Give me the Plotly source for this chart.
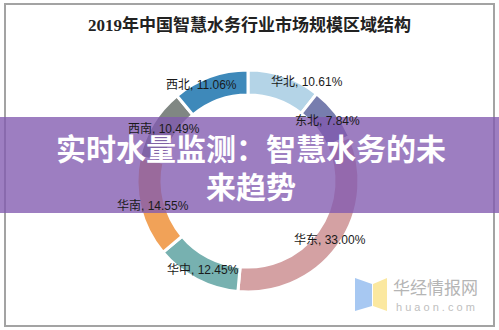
import plotly.graph_objects as go

W, H = 499, 330

title = "2019年中国智慧水务行业市场规模区域结构"
regions = ["华北", "东北", "华东", "华中", "华南", "西南", "西北"]
shares = [10.61, 7.84, 33.00, 12.45, 14.55, 10.49, 11.06]
colors = ["#B4D4E7", "#777DAE", "#D4A1A3", "#77B1B0", "#F1A258", "#808783", "#3E89BA"]
# label centres (px) as placed in the source image
label_px = [(307, 82), (327, 121), (330, 240), (203, 269), (153, 205), (164, 128), (201, 85)]
banner_lines = ["实时水量监测：智慧水务的未", "来趋势"]

def px(x, y):
    return x / W, 1 - y / H

cx, cy, r = 248, 181, 111
x0, y0 = px(cx - r, cy + r)
x1, y1 = px(cx + r, cy - r)

fig = go.Figure(go.Pie(
    labels=regions, values=shares, sort=False, direction="clockwise", rotation=0,
    hole=0.775, textinfo="none", hoverinfo="label+percent",
    marker=dict(colors=colors, line=dict(color="white", width=3)),
    domain=dict(x=[x0, x1], y=[y0, y1]), showlegend=False,
))

font_lbl = "Liberation Sans, Arial, Noto Sans CJK SC, sans-serif"
ann = []
for name, v, (lx, ly) in zip(regions, shares, label_px):
    ax, ay = px(lx, ly)
    ann.append(dict(x=ax, y=ay, xref="paper", yref="paper", showarrow=False,
                    text=f"{name}, {v:.2f}%", font=dict(size=12, color="#1a1a1a", family=font_lbl),
                    xanchor="center", yanchor="middle"))

tx, ty = px(250, 25)
ann.append(dict(x=tx, y=ty, xref="paper", yref="paper", showarrow=False,
                text=f"<b>{title}</b>", font=dict(size=17, color="#222222",
                family="Liberation Serif, Noto Sans CJK SC, serif"),
                xanchor="center", yanchor="middle"))

# watermark
wx, wy = px(435, 286)
ann.append(dict(x=wx, y=wy, xref="paper", yref="paper", showarrow=False,
                text="华经情报网", font=dict(size=17, color="#B5B5B5", family="Noto Sans CJK SC"),
                xanchor="center", yanchor="middle"))
wx2, wy2 = px(435, 307)
ann.append(dict(x=wx2, y=wy2, xref="paper", yref="paper", showarrow=False,
                text="h u a o n . c o m", font=dict(size=11, color="#C0C0C0", family="Liberation Sans"),
                xanchor="center", yanchor="middle"))

# banner text
for line, yy in zip(banner_lines, [147, 185]):
    bx, by = px(251, yy)
    ann.append(dict(x=bx, y=by, xref="paper", yref="paper", showarrow=False,
                    text=f"<b>{line}</b>", font=dict(size=30, color="white", family="Noto Sans CJK SC"),
                    xanchor="center", yanchor="middle"))

def path(points):
    pts = [px(a, b) for a, b in points]
    return "M " + " L ".join(f"{a},{b}" for a, b in pts) + " Z"

shapes = [
    # frame
    dict(type="rect", xref="paper", yref="paper", x0=5/W, x1=494/W, y0=1-326/H, y1=1-4/H,
         line=dict(color="#A3A3A3", width=2), fillcolor="rgba(0,0,0,0)", layer="below"),
    # logo
    dict(type="path", xref="paper", yref="paper", path=path([(355, 278), (372, 284), (372, 306), (355, 311)]),
         fillcolor="#A7C8F2", line=dict(width=0)),
    dict(type="path", xref="paper", yref="paper", path=path([(373, 284), (387, 278), (387, 311), (373, 306)]),
         fillcolor="#FBE8A0", line=dict(width=0)),
    # banner
    dict(type="rect", xref="paper", yref="paper", x0=0, x1=1, y0=1-213/H, y1=1-117/H,
         fillcolor="rgba(130,90,176,0.78)", line=dict(width=0), layer="above"),
]

fig.update_layout(width=W, height=H, margin=dict(l=0, r=0, t=0, b=0),
                  paper_bgcolor="white", plot_bgcolor="white",
                  annotations=ann, shapes=shapes)
fig.write_html("out.html")
